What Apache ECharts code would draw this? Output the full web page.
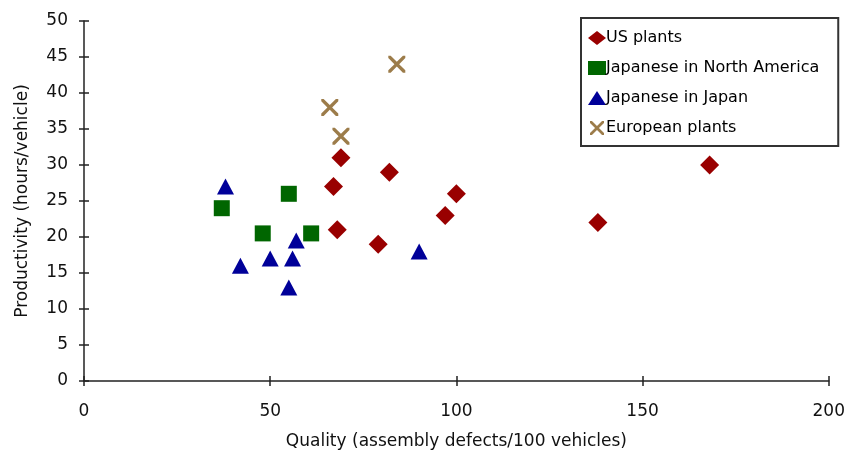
<!DOCTYPE html>
<html>
<head>
<meta charset="utf-8">
<script src="https://cdn.jsdelivr.net/npm/echarts@6/dist/echarts.min.js"></script>
<style>
  html, body { margin: 0; padding: 0; background: #fff; }
  #chart { width: 848px; height: 455px; }
</style>
</head>
<body>
<div id="chart"></div>
<script>
/* data: [quality, productivity] */
var usPlants = [[69, 31], [67, 27], [82, 29], [68, 21], [79, 19], [97, 23], [100, 26], [138, 22], [168, 30]]
var japNorthAmerica = [[37, 24], [55, 26], [48, 20.5], [61, 20.5]]
var japJapan = [[38, 27], [42, 16], [50, 17], [56, 17], [57, 19.5], [55, 13], [90, 18]]
var european = [[84, 44], [66, 38], [69, 34]]
var seriesNames = ['US plants', 'Japanese in North America', 'Japanese in Japan', 'European plants']
var xTicks = [0, 50, 100, 150, 200]
var yTicks = [0, 5, 10, 15, 20, 25, 30, 35, 40, 45, 50]

var FONT = 'DejaVu Sans'
var crossPath = 'path://M0,0L1.4,0L5,3.6L8.6,0L10,0L10,1.4L6.4,5L10,8.6L10,10L8.6,10L5,6.4L1.4,10L0,10L0,8.6L3.6,5L0,1.4Z'

var scatterChart = function () {
  var box = document.getElementById('chart')
  var myCharts = echarts.init(box)
  var axisLine = { lineStyle: { color: '#222', width: 1.5 } }
  var options = {
    animation: false,
    grid: { left: 84, right: 18, top: 21, bottom: 74 },
    legend: {
      orient: 'vertical',
      left: 581,
      top: 18,
      padding: [12, 19, 10, 7],
      itemGap: 14,
      itemWidth: 18,
      itemHeight: 14,
      borderColor: '#333',
      borderWidth: 2,
      textStyle: { fontFamily: FONT, fontSize: 16, color: '#000', padding: [0, 0, 0, -5] },
      data: seriesNames
    },
    xAxis: [{
      type: 'value',
      min: 0,
      max: 200,
      interval: 50,
      name: 'Quality (assembly defects/100 vehicles)',
      nameLocation: 'middle',
      nameGap: 52,
      nameTextStyle: { fontFamily: FONT, fontSize: 17, color: '#111' },
      axisLine: axisLine,
      axisTick: { show: true, length: 5, lineStyle: { color: '#222', width: 1.5 } },
      axisLabel: { fontFamily: FONT, fontSize: 17, color: '#111', margin: 22 },
      splitLine: { show: false }
    }, {
      type: 'value', min: 0, max: 200, interval: 50, position: 'bottom',
      axisLine: { show: false },
      axisTick: { show: true, inside: true, length: 5, lineStyle: { color: '#222', width: 1.5 } },
      axisLabel: { show: false }, splitLine: { show: false }
    }],
    yAxis: [{
      type: 'value',
      min: 0,
      max: 50,
      interval: 5,
      name: 'Productivity (hours/vehicle)',
      nameLocation: 'middle',
      nameGap: 53,
      nameTextStyle: { fontFamily: FONT, fontSize: 17, color: '#111' },
      axisLine: axisLine,
      axisTick: { show: true, length: 5, lineStyle: { color: '#222', width: 1.5 } },
      axisLabel: { fontFamily: FONT, fontSize: 17, color: '#111', margin: 16 },
      splitLine: { show: false }
    }, {
      type: 'value', min: 0, max: 50, interval: 5, position: 'left',
      axisLine: { show: false },
      axisTick: { show: true, inside: true, length: 5, lineStyle: { color: '#222', width: 1.5 } },
      axisLabel: { show: false }, splitLine: { show: false }
    }],
    series: [{
      name: seriesNames[0],
      type: 'scatter',
      symbol: 'diamond',
      symbolSize: 19,
      itemStyle: { color: '#990000', opacity: 1 },
      data: usPlants
    }, {
      name: seriesNames[1],
      type: 'scatter',
      symbol: 'rect',
      symbolSize: 16,
      itemStyle: { color: '#006600', opacity: 1 },
      data: japNorthAmerica
    }, {
      name: seriesNames[2],
      type: 'scatter',
      symbol: 'triangle',
      symbolSize: [17, 16],
      itemStyle: { color: '#000099', opacity: 1 },
      data: japJapan
    }, {
      name: seriesNames[3],
      type: 'scatter',
      symbol: crossPath,
      symbolSize: 17,
      itemStyle: { color: '#9c7c4a', opacity: 1 },
      data: european
    }]
  }
  // tick labels come from the named lists
  options.xAxis[0].axisLabel.formatter = function (v) { return xTicks.indexOf(v) >= 0 ? String(v) : '' }
  options.yAxis[0].axisLabel.formatter = function (v) { return yTicks.indexOf(v) >= 0 ? String(v) : '' }
  myCharts.setOption(options)
}

scatterChart()
</script>
</body>
</html>
